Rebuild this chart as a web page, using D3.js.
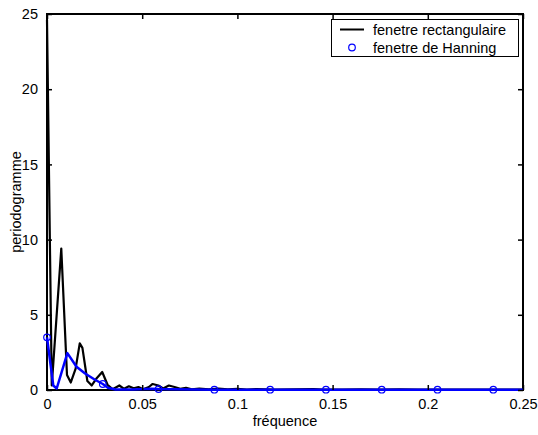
<!DOCTYPE html>
<html>
<head>
<meta charset="utf-8">
<script src="https://cdn.jsdelivr.net/npm/d3@7"></script>
<style>
  body { margin: 0; background: #fff; }
  text { font-family: "Liberation Sans", Arial, sans-serif; }
</style>
</head>
<body>
<svg id="chart" width="538" height="435"></svg>
<script>
// rectangular window periodogram
var rectFreq = [0, 0.0025, 0.0075, 0.0105, 0.0125, 0.015, 0.0172, 0.0186, 0.0212, 0.0235,
  0.0262, 0.029, 0.0318, 0.0345, 0.038, 0.0405, 0.043, 0.0455, 0.048, 0.0505,
  0.0535, 0.0555, 0.0585, 0.061, 0.064, 0.067, 0.07, 0.073, 0.076, 0.08,
  0.085, 0.09, 0.095, 0.1, 0.105, 0.11, 0.12, 0.13, 0.14, 0.145,
  0.155, 0.165, 0.175, 0.185, 0.195, 0.21, 0.23, 0.25];
var rectVal = [24.6, 0.3, 9.4, 1.0, 0.5, 1.4, 3.1, 2.8, 0.6, 0.3,
  0.8, 1.2, 0.35, 0.05, 0.3, 0.08, 0.25, 0.12, 0.2, 0.05,
  0.2, 0.4, 0.3, 0.1, 0.3, 0.2, 0.08, 0.15, 0.05, 0.1,
  0.05, 0.1, 0.05, 0.08, 0.03, 0.06, 0.02, 0.04, 0.06, 0.03,
  0.02, 0.04, 0.02, 0.04, 0.03, 0.02, 0.02, 0.02];

// hanning window periodogram
var hannFreq = [0, 0.0033, 0.0051, 0.0107, 0.0155, 0.02, 0.025, 0.0293, 0.032, 0.036,
  0.045, 0.055, 0.0586, 0.065, 0.0879, 0.1172, 0.1465, 0.1758, 0.2051, 0.2344, 0.25];
var hannVal = [3.5, 0.3, 0.1, 2.45, 1.55, 1.1, 0.7, 0.4, 0.15, 0.03,
  0.03, 0.08, 0.06, 0.05, 0.02, 0.02, 0.02, 0.02, 0.02, 0.02, 0.02];

// circle markers on the hanning curve
var markFreq = [0, 0.0293, 0.0586, 0.0879, 0.1172, 0.1465, 0.1758, 0.2051, 0.2344];
var markVal = [3.5, 0.4, 0.06, 0.02, 0.02, 0.02, 0.02, 0.02, 0.02];

var xTicks = [0, 0.05, 0.1, 0.15, 0.2, 0.25];
var yTicks = [0, 5, 10, 15, 20, 25];
var legendLabels = ['fenetre rectangulaire', 'fenetre de Hanning'];

var svg = d3.select('#chart');
var m = {left: 47, top: 14, right: 523, bottom: 390};

var x = d3.scaleLinear().domain([0, 0.25]).range([m.left, m.right]);
var y = d3.scaleLinear().domain([0, 25]).range([m.bottom, m.top]);

// frame first so the curves sit on top of it
svg.append('rect')
  .attr('x', m.left).attr('y', m.top)
  .attr('width', m.right - m.left).attr('height', m.bottom - m.top)
  .attr('fill', 'none').attr('stroke', '#000').attr('stroke-width', 2);

svg.append('clipPath').attr('id', 'clip')
  .append('rect')
  .attr('x', m.left - 2).attr('y', m.top)
  .attr('width', m.right - m.left + 4).attr('height', m.bottom - m.top + 3);

var line = d3.line()
  .x(function(d) { return x(d[0]); })
  .y(function(d) { return y(d[1]); });

var plot = svg.append('g').attr('clip-path', 'url(#clip)');

plot.append('path')
  .datum(d3.zip(rectFreq, rectVal))
  .attr('d', line)
  .attr('fill', 'none')
  .attr('stroke', '#000')
  .attr('stroke-width', 2.2)
  .attr('stroke-linejoin', 'round');

plot.append('path')
  .datum(d3.zip(hannFreq, hannVal))
  .attr('d', line)
  .attr('fill', 'none')
  .attr('stroke', '#0000ff')
  .attr('stroke-width', 2.5)
  .attr('stroke-linejoin', 'round');

svg.append('g').selectAll('circle')
  .data(d3.zip(markFreq, markVal))
  .enter().append('circle')
  .attr('cx', function(d) { return x(d[0]); })
  .attr('cy', function(d) { return y(d[1]); })
  .attr('r', 3.3)
  .attr('fill', 'none')
  .attr('stroke', '#0000ff')
  .attr('stroke-width', 1.2);

// axes: ticks inside, on all four sides
var axB = d3.axisBottom(x).tickValues(xTicks).tickSizeInner(-5).tickSizeOuter(0).tickPadding(9)
  .tickFormat(function(d) { return d === 0 ? '0' : String(d); });
var axT = d3.axisTop(x).tickValues(xTicks).tickSizeInner(-5).tickSizeOuter(0).tickFormat('');
var axL = d3.axisLeft(y).tickValues(yTicks).tickSizeInner(-5).tickSizeOuter(0).tickPadding(9);
var axR = d3.axisRight(y).tickValues(yTicks).tickSizeInner(-5).tickSizeOuter(0).tickFormat('');

function styleAxis(g) {
  g.select('.domain').remove();
  g.selectAll('.tick line').attr('stroke', '#000').attr('stroke-width', 1.5);
  g.selectAll('.tick text').attr('font-size', '14.5px').attr('fill', '#000')
    .style('font-family', '"Liberation Sans", Arial, sans-serif');
}

svg.append('g').attr('transform', 'translate(0,' + m.bottom + ')').call(axB).call(styleAxis);
svg.append('g').attr('transform', 'translate(0,' + m.top + ')').call(axT).call(styleAxis);
svg.append('g').attr('transform', 'translate(' + m.left + ',0)').call(axL).call(styleAxis);
svg.append('g').attr('transform', 'translate(' + m.right + ',0)').call(axR).call(styleAxis);

// axis titles
svg.append('text')
  .attr('x', (m.left + m.right) / 2).attr('y', 426)
  .attr('text-anchor', 'middle').attr('font-size', '14.5px')
  .text('fréquence');

svg.append('text')
  .attr('transform', 'translate(21,' + (m.top + m.bottom) / 2 + ') rotate(-90)')
  .attr('text-anchor', 'middle').attr('font-size', '14.5px')
  .text('periodogramme');

// legend
var lg = svg.append('g');
lg.append('rect')
  .attr('x', 331.5).attr('y', 19.5).attr('width', 187).attr('height', 37)
  .attr('fill', '#fff').attr('stroke', '#000').attr('stroke-width', 1);
lg.append('line')
  .attr('x1', 340).attr('x2', 364).attr('y1', 29.5).attr('y2', 29.5)
  .attr('stroke', '#000').attr('stroke-width', 2);
lg.append('circle')
  .attr('cx', 352).attr('cy', 47.5).attr('r', 3.3)
  .attr('fill', 'none').attr('stroke', '#0000ff').attr('stroke-width', 1.2);
lg.selectAll('text.lab')
  .data(legendLabels)
  .enter().append('text')
  .attr('class', 'lab')
  .attr('x', 373)
  .attr('y', function(d, i) { return 35 + i * 17.5; })
  .attr('font-size', '14.5px')
  .text(function(d) { return d; });
</script>
</body>
</html>
